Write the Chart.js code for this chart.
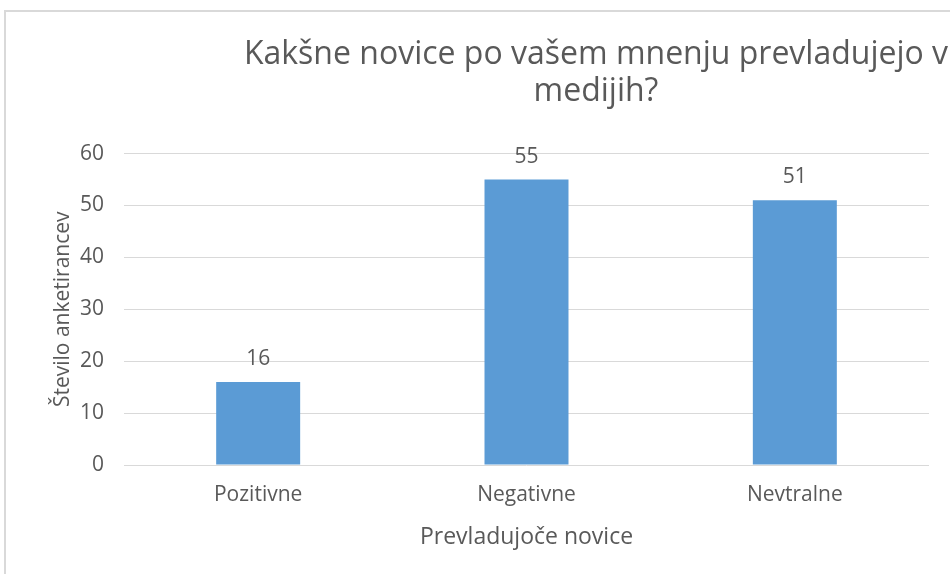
<!DOCTYPE html>
<html>
<head>
<meta charset="utf-8">
<script src="https://cdn.jsdelivr.net/npm/chart.js@4.4.1/dist/chart.umd.min.js"></script>
<style>
  html, body { margin: 0; padding: 0; background: #fff; overflow: hidden; }
  #wrap {
    position: absolute; left: 4px; top: 10px;
    width: 1180px; height: 600px;
    border-left: 2px solid #d9d9d9; border-top: 2px solid #d9d9d9;
  }
</style>
</head>
<body>
<div id="wrap"><canvas id="chart" width="1180" height="600"></canvas></div>
<script>
const categories = ["Pozitivne", "Negativne", "Nevtralne"];
const counts = [16, 55, 51];
const yTicks = [0, 10, 20, 30, 40, 50, 60];
const titleLines = ["Kakšne novice po vašem mnenju prevladujejo v", "medijih?"];
const xTitle = "Prevladujoče novice";
const yTitle = "Število anketirancev";

const textColor = "#595959";
const fontFamily = "'Open Sans', 'Noto Sans', sans-serif";

// values printed above each bar
const valueLabels = {
  id: "valueLabels",
  afterDatasetsDraw(chart) {
    const ctx = chart.ctx;
    const meta = chart.getDatasetMeta(0);
    ctx.save();
    ctx.font = "21px " + fontFamily;
    ctx.fillStyle = textColor;
    ctx.textAlign = "center";
    ctx.textBaseline = "alphabetic";
    meta.data.forEach((bar, i) => {
      ctx.fillText(String(counts[i]), bar.x, bar.y - 17);
    });
    ctx.restore();
  }
};

const ctx = document.getElementById("chart").getContext("2d");
new Chart(ctx, {
  type: "bar",
  data: {
    labels: categories,
    datasets: [{
      data: counts,
      backgroundColor: "#5b9bd5",
      borderWidth: 0,
      barPercentage: 0.313,
      categoryPercentage: 1
    }]
  },
  options: {
    responsive: false,
    animation: false,
    layout: { padding: 0 },
    plugins: {
      legend: { display: false },
      tooltip: { enabled: false },
      title: {
        display: true,
        text: titleLines,
        color: textColor,
        font: { family: fontFamily, size: 32, weight: "normal", lineHeight: 1.165 },
        padding: { top: 24, bottom: 43 }
      }
    },
    scales: {
      x: {
        grid: { display: false, drawTicks: false },
        border: { display: false },
        ticks: { color: textColor, font: { family: fontFamily, size: 21 }, padding: 17 },
        title: {
          display: true, text: xTitle, color: textColor,
          font: { family: fontFamily, size: 23 },
          padding: { top: 0, bottom: 61 }
        },
        afterFit: s => { s.height = 147; }
      },
      y: {
        min: 0,
        max: 60,
        afterBuildTicks: s => { s.ticks = yTicks.map(v => ({ value: v })); },
        grid: { color: "#d9d9d9", lineWidth: 1, drawTicks: false },
        border: { display: false },
        ticks: { color: textColor, font: { family: fontFamily, size: 21 }, padding: 20 },
        title: {
          display: true, text: yTitle, color: textColor,
          font: { family: fontFamily, size: 21 },
          padding: { top: 44, bottom: 0 }
        },
        afterFit: s => { s.width = 118; }
      },
      pad: {
        position: "right",
        display: true,
        grid: { display: false, drawTicks: false },
        border: { display: false },
        ticks: { display: false },
        afterFit: s => { s.width = 257; }
      }
    }
  },
  plugins: [valueLabels]
});
</script>
</body>
</html>
